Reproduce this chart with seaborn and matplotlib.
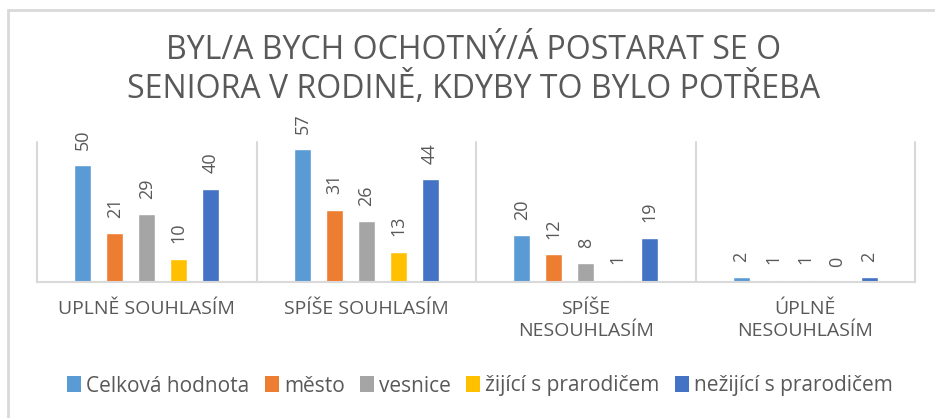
import matplotlib
matplotlib.use("Agg")
import matplotlib.pyplot as plt
from matplotlib.patches import Rectangle, Patch
import seaborn as sns
import pandas as pd

# Survey answers (categories on the x axis)
categories = ["UPLNĚ SOUHLASÍM", "SPÍŠE SOUHLASÍM", "SPÍŠE\nNESOUHLASÍM", "ÚPLNĚ\nNESOUHLASÍM"]

# Respondent groups (one bar per group in each category)
groups = ["Celková hodnota", "město", "vesnice", "žijící s prarodičem", "nežijící s prarodičem"]

celkova = [50, 57, 20, 2]
mesto = [21, 31, 12, 1]
vesnice = [29, 26, 8, 1]
zijici = [10, 13, 1, 0]
nezijici = [40, 44, 19, 2]

colors = ["#5B9BD5", "#ED7D31", "#A5A5A5", "#FFC000", "#4472C4"]
text_color = "#595959"
line_color = "#D9D9D9"

df = pd.DataFrame({
    "kategorie": categories * 5,
    "skupina": sum([[g] * 4 for g in groups], []),
    "pocet": celkova + mesto + vesnice + zijici + nezijici,
})

sns.set_theme(style="white")
plt.rcParams["font.family"] = ["Open Sans", "DejaVu Sans"]

fig = plt.figure(figsize=(9.35, 4.18), dpi=100)
ax = fig.add_axes([37 / 935, 1 - 282 / 418, (915 - 37) / 935, 140 / 418])

sns.barplot(data=df, x="kategorie", y="pocet", hue="skupina",
            order=categories, hue_order=groups, palette=colors,
            width=0.727, gap=0.47, ax=ax, legend=False, saturation=1)

for cont in ax.containers:
    ax.bar_label(cont, labels=[f"{int(v)}" for v in cont.datavalues],
                 rotation=90, padding=11, color=text_color, fontsize=13)

ax.set_ylim(0, 60)
ax.set_xlim(-0.5, len(categories) - 0.5)
ax.set_xlabel("")
ax.set_ylabel("")
ax.set_yticks([])
for s in ["left", "right", "top"]:
    ax.spines[s].set_visible(False)
ax.spines["bottom"].set_color(line_color)
ax.spines["bottom"].set_linewidth(1.5)

# category separators
for xb in [i - 0.5 for i in range(len(categories) + 1)]:
    ax.plot([xb, xb], [0, 60], color=line_color, lw=1.5, clip_on=False, zorder=0)

ax.tick_params(axis="x", length=0, pad=13)
for lbl in ax.get_xticklabels():
    lbl.set_color(text_color)
    lbl.set_fontsize(14)
    lbl.set_linespacing(1.3)
    lbl.set_verticalalignment("top")

fig.text(474 / 935, 1 - 70 / 418,
         "BYL/A BYCH OCHOTNÝ/Á POSTARAT SE O\nSENIORA V RODINĚ, KDYBY TO BYLO POTŘEBA",
         ha="center", va="center", fontsize=23, color=text_color,
         linespacing=1.15)

handles = [Patch(facecolor=c, edgecolor="none") for c in colors]
fig.legend(handles, groups, loc="center", bbox_to_anchor=(480 / 935, 1 - 386 / 418),
           ncol=5, frameon=False, fontsize=15, handlelength=0.65, handleheight=0.8,
           handletextpad=0.25, columnspacing=0.75, labelcolor=text_color)

# chart border
fig.patches.append(Rectangle((7.5 / 935, -0.1), 1.2, 1.1 - 10 / 418 + 0.0,
                             transform=fig.transFigure, fill=False,
                             edgecolor=line_color, lw=2, zorder=-1))

fig.savefig("out.png", dpi=100, facecolor="white")
